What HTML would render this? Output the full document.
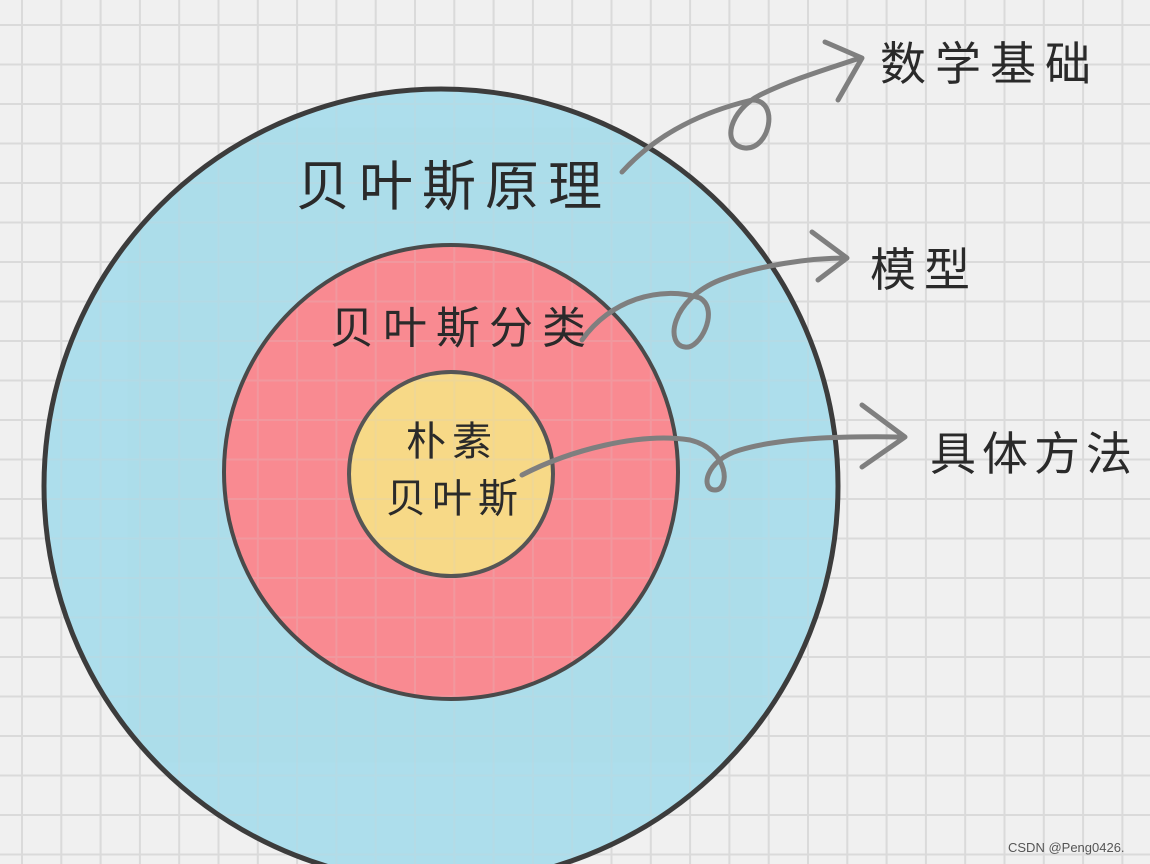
<!DOCTYPE html>
<html><head><meta charset="utf-8"><style>
html,body{margin:0;padding:0;background:#f0f0f0;}
svg{display:block}
text{font-family:"Liberation Sans","Noto Sans CJK SC",sans-serif;fill:#2a2a2a;}
</style></head><body>
<svg width="1150" height="864" viewBox="0 0 1150 864" xmlns="http://www.w3.org/2000/svg">
<defs>
<pattern id="g" x="21" y="24" width="39.3" height="39.5" patternUnits="userSpaceOnUse">
<path d="M1 0V39.5M0 1H39.3" stroke="#dadada" stroke-width="2" fill="none"/>
</pattern>
</defs>
<rect width="1150" height="864" fill="#f0f0f0"/>
<rect width="1150" height="864" fill="url(#g)"/>
<g opacity="0.88">
<circle cx="441" cy="486" r="397" fill="#a3dbea"/>
<circle cx="451" cy="472" r="227" fill="#fb7c85"/>
<circle cx="451" cy="474" r="102" fill="#f8d679"/>
</g>
<rect width="1150" height="864" fill="url(#g)" opacity="0.2"/>
<circle cx="441" cy="486" r="397" fill="none" stroke="#3c3c3c" stroke-width="5"/>
<circle cx="451" cy="472" r="227" fill="none" stroke="#4a4a4a" stroke-width="4"/>
<circle cx="451" cy="474" r="102" fill="none" stroke="#555" stroke-width="4"/>
<g fill="none" stroke="#7f7f7f" stroke-width="5" stroke-linecap="round" stroke-linejoin="round">
<path d="M622 172 C660 130 710 110 752 100 C780 100 770 150 745 148 C720 145 730 110 760 95 C790 80 830 68 860 58"/>
<path d="M825 42 L862 58 L838 100"/>
<path d="M582 340 C610 300 660 285 700 298 C720 310 700 350 685 347 C665 345 670 300 720 280 C760 265 810 258 846 258"/>
<path d="M812 232 L847 258 L818 280"/>
<path d="M522 475 C570 450 640 432 690 440 C730 450 730 490 715 490 C700 490 705 460 740 450 C780 438 840 436 902 437"/>
<path d="M862 405 L905 437 L862 467"/>
</g>
<text x="296" y="205" font-size="54" letter-spacing="9">贝叶斯原理</text>
<text x="330" y="343" font-size="44" letter-spacing="9">贝叶斯分类</text>
<text x="452" y="455" font-size="40" text-anchor="middle" letter-spacing="6">朴素</text>
<text x="455" y="512" font-size="40" text-anchor="middle" letter-spacing="6">贝叶斯</text>
<text x="880" y="80" font-size="46" letter-spacing="9">数学基础</text>
<text x="870" y="286" font-size="46" letter-spacing="8">模型</text>
<text x="930" y="470" font-size="46" letter-spacing="6">具体方法</text>
<text x="1008" y="852" font-size="13" style="fill:#555">CSDN @Peng0426.</text>
</svg>
</body></html>
